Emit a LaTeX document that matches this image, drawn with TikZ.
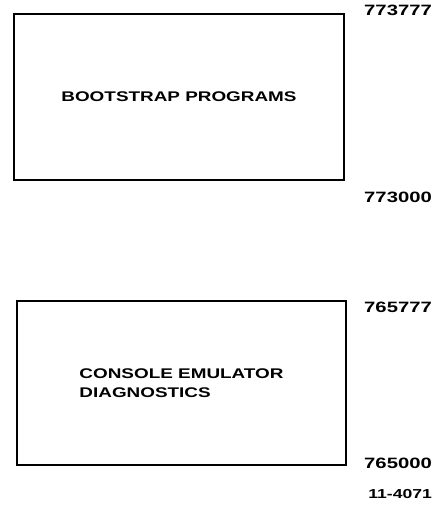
\documentclass[tikz,border=0pt]{standalone}
\usepackage{fontspec}
\newfontfamily\diagfont[FakeStretch=1.35]{Liberation Sans}
\usetikzlibrary{positioning}

\tikzset{
  membox/.style={draw, line width=1.6pt, inner sep=0pt},
  memtext/.style={font=\diagfont\bfseries\fontsize{14}{19}\selectfont},
  addr/.style={font=\diagfont\bfseries\fontsize{15}{18}\selectfont, anchor=east, inner sep=0pt}
}

\begin{document}
\begin{tikzpicture}[x=1pt, y=-1pt]
\useasboundingbox (0,0) rectangle (433,505);

% ROM blocks
\node[membox, minimum width=330pt, minimum height=166pt] (boot) at (179,97) {};
\node[memtext] (boottxt) at (boot.center) {BOOTSTRAP PROGRAMS};

\node[membox, minimum width=329pt, minimum height=164pt] (diag) at (181.5,383) {};
\node[memtext, align=left] (diagtxt) at (diag.center) {CONSOLE EMULATOR\\DIAGNOSTICS};

% address limits
\node[addr] (boothi) at (432,10) {773777};
\node[addr] (bootlo) at (432,197) {773000};
\node[addr] (diaghi) at (432,307) {765777};
\node[addr] (diaglo) at (432,463) {765000};
\node[addr, font=\diagfont\bfseries\fontsize{13}{16}\selectfont] (figno) at (432,494) {11-4071};

\end{tikzpicture}
\end{document}
